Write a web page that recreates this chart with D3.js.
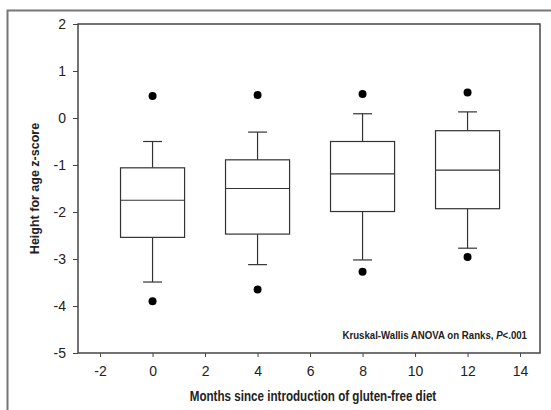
<!DOCTYPE html>
<html>
<head>
<meta charset="utf-8">
<script src="https://cdn.jsdelivr.net/npm/d3@7"></script>
<style>
  body { margin: 0; background: #fff; }
  text { font-family: Arial, "Liberation Sans", sans-serif; }
</style>
</head>
<body>
<div id="chart"></div>
<script>
// Box plot summary per time point (height-for-age z-score)
const months      = [0, 4, 8, 12];
const whiskerLow  = [-3.49, -3.12, -3.02, -2.77];
const q1          = [-2.54, -2.47, -1.99, -1.93];
const median      = [-1.75, -1.50, -1.19, -1.11];
const q3          = [-1.06, -0.89, -0.50, -0.27];
const whiskerHigh = [-0.50, -0.30, 0.09, 0.13];
const outlierLow  = [-3.90, -3.65, -3.27, -2.96];
const outlierHigh = [0.47, 0.49, 0.51, 0.54];

const xTicks = [-2, 0, 2, 4, 6, 8, 10, 12, 14];
const yTicks = [2, 1, 0, -1, -2, -3, -4, -5];

const W = 551, H = 410;
const margin = {top: 24, right: 11, bottom: 57, left: 78},
      width = W - margin.left - margin.right,
      height = H - margin.top - margin.bottom;

const svg = d3.select("#chart")
  .append("svg")
    .attr("width", W)
    .attr("height", H);

// Outer frame (cropped figure border)
svg.append("path")
  .attr("d", `M7.5,${H} V10.5 H${W}`)
  .attr("fill", "none")
  .attr("stroke", "#777")
  .attr("stroke-width", 2);

const g = svg.append("g")
  .attr("transform", `translate(${margin.left},${margin.top})`);

const x = d3.scaleLinear().domain([-2.84, 14.76]).range([0, width]);
const y = d3.scaleLinear().domain([-5, 2]).range([height, 0]);

// plain hyphen minus, integer labels
const fmt = d => String(d);

// X axis
const xAxis = g.append("g")
  .attr("transform", `translate(0,${height})`)
  .call(d3.axisBottom(x).tickValues(xTicks).tickFormat(fmt).tickSize(4).tickSizeOuter(0).tickPadding(9));
xAxis.select(".domain").remove();

// Y axis
const yAxis = g.append("g")
  .call(d3.axisLeft(y).tickValues(yTicks).tickFormat(fmt).tickSize(5).tickSizeOuter(0).tickPadding(7));
yAxis.select(".domain").remove();

[xAxis, yAxis].forEach(a => {
  a.selectAll("line").attr("stroke", "#444");
  a.selectAll("text").attr("fill", "#222").style("font-size", "14px");
});

// Plot frame
g.append("rect")
  .attr("x", 0).attr("y", 0)
  .attr("width", width).attr("height", height)
  .attr("fill", "none")
  .attr("stroke", "#444")
  .attr("stroke-width", 1.5);

const boxHalf = 1.22, capHalf = 0.36;
const stroke = "#333";

months.forEach((m, i) => {
  const b = g.append("g");
  // whiskers
  b.append("line")
    .attr("x1", x(m)).attr("x2", x(m))
    .attr("y1", y(q3[i])).attr("y2", y(whiskerHigh[i]))
    .attr("stroke", stroke).attr("stroke-width", 1.2);
  b.append("line")
    .attr("x1", x(m)).attr("x2", x(m))
    .attr("y1", y(q1[i])).attr("y2", y(whiskerLow[i]))
    .attr("stroke", stroke).attr("stroke-width", 1.2);
  // caps
  [whiskerHigh[i], whiskerLow[i]].forEach(v => {
    b.append("line")
      .attr("x1", x(m - capHalf)).attr("x2", x(m + capHalf))
      .attr("y1", y(v)).attr("y2", y(v))
      .attr("stroke", stroke).attr("stroke-width", 1.2);
  });
  // box
  b.append("rect")
    .attr("x", x(m - boxHalf))
    .attr("y", y(q3[i]))
    .attr("width", x(m + boxHalf) - x(m - boxHalf))
    .attr("height", y(q1[i]) - y(q3[i]))
    .attr("fill", "#fff")
    .attr("stroke", stroke).attr("stroke-width", 1.2);
  // median
  b.append("line")
    .attr("x1", x(m - boxHalf)).attr("x2", x(m + boxHalf))
    .attr("y1", y(median[i])).attr("y2", y(median[i]))
    .attr("stroke", stroke).attr("stroke-width", 1.2);
  // outliers
  [outlierHigh[i], outlierLow[i]].forEach(v => {
    b.append("circle")
      .attr("cx", x(m)).attr("cy", y(v))
      .attr("r", 4)
      .attr("fill", "#000");
  });
});

// Annotation (narrow bold face, squeezed horizontally)
const note = svg.append("text")
  .attr("transform", "translate(527,339) scale(0.84,1)")
  .attr("text-anchor", "end")
  .style("font-size", "11.5px")
  .style("font-weight", "bold")
  .attr("fill", "#222");
note.append("tspan").text("Kruskal-Wallis ANOVA on Ranks, ");
note.append("tspan").style("font-style", "italic").text("P");
note.append("tspan").text("<.001");

// X axis label
svg.append("text")
  .attr("transform", "translate(313,401) scale(0.83,1)")
  .attr("text-anchor", "middle")
  .style("font-size", "14px")
  .style("font-weight", "bold")
  .attr("fill", "#222")
  .text("Months since introduction of gluten-free diet");

// Y axis label
svg.append("text")
  .attr("transform", `translate(39,${margin.top + height / 2}) rotate(-90)`)
  .attr("text-anchor", "middle")
  .style("font-size", "12.5px")
  .style("font-weight", "bold")
  .attr("fill", "#222")
  .text("Height for age z-score");
</script>
</body>
</html>
